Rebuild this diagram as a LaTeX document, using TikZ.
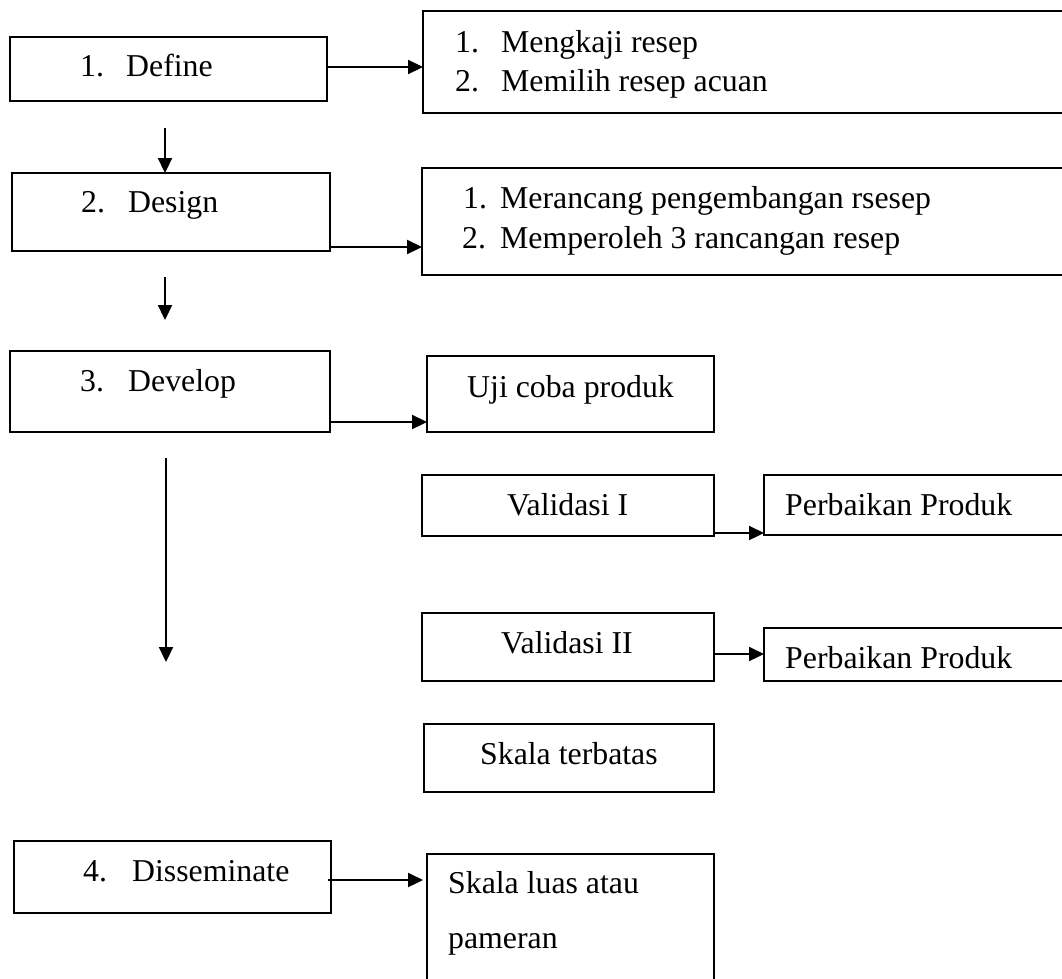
\documentclass[tikz,border=0pt]{standalone}
\usepackage{fontspec}
\setmainfont{Liberation Serif}
\usetikzlibrary{arrows.meta}
\begin{document}
\begin{tikzpicture}[x=1pt,y=-1pt,
  bx/.style={draw, line width=2.6pt, rectangle, inner sep=0pt, outer sep=0pt, anchor=north west},
  tx/.style={anchor=base west, inner sep=0pt, font=\fontsize{31.8}{38}\selectfont},
  arr/.style={line width=2.2pt, -{Triangle[length=15pt,width=14pt]}}]
\useasboundingbox (0,0) rectangle (1062,978);
% boxes
\node[bx, line width=1.8pt, minimum width=317pt, minimum height=64pt] (define) at (10,37) {};
\node[bx, minimum width=660pt, minimum height=102pt] (box1) at (423,11) {};
\node[bx, minimum width=318pt, minimum height=78pt] (design) at (12,173) {};
\node[bx, minimum width=660pt, minimum height=107pt] (box2) at (422,168) {};
\node[bx, minimum width=320pt, minimum height=81pt] (develop) at (10,351) {};
\node[bx, minimum width=287pt, minimum height=76pt] (uji) at (427,356) {};
\node[bx, minimum width=292pt, minimum height=61pt] (val1) at (422,475) {};
\node[bx, minimum width=320pt, minimum height=60pt] (perb1) at (764,475) {};
\node[bx, minimum width=292pt, minimum height=68pt] (val2) at (422,613) {};
\node[bx, minimum width=320pt, minimum height=53pt] (perb2) at (764,628) {};
\node[bx, minimum width=290pt, minimum height=68pt] (skalat) at (424,724) {};
\node[bx, minimum width=317pt, minimum height=72pt] (dissem) at (14,841) {};
\node[bx, minimum width=287pt, minimum height=150pt] (skalal) at (427,854) {};
% texts
\node[tx] (tdefine) at (80,76) {\makebox[46pt][l]{1.}Define};
\node[tx] (tb1a) at (455,52) {\makebox[46pt][l]{1.}Mengkaji resep};
\node[tx] (tb1b) at (455,91) {\makebox[46pt][l]{2.}Memilih resep acuan};
\node[tx] (tdesign) at (81,212) {\makebox[47pt][l]{2.}Design};
\node[tx] (tb2a) at (463,208) {\makebox[37pt][l]{1.}Merancang pengembangan rsesep};
\node[tx] (tb2b) at (462,248) {\makebox[38pt][l]{2.}Memperoleh 3 rancangan resep};
\node[tx] (tdevelop) at (80,391) {\makebox[48pt][l]{3.}Develop};
\node[tx] (tuji) at (467,397) {Uji coba produk};
\node[tx] (tval1) at (507,515) {Validasi I};
\node[tx] (tperb1) at (785,515) {Perbaikan Produk};
\node[tx] (tval2) at (501,653) {Validasi II};
\node[tx] (tperb2) at (785,668) {Perbaikan Produk};
\node[tx] (tskalat) at (480,764) {Skala terbatas};
\node[tx] (tdissem) at (83,881) {\makebox[49pt][l]{4.}Disseminate};
\node[tx] (tskalal1) at (448,893) {Skala luas atau};
\node[tx] (tskalal2) at (448,948) {pameran};
% free arrow ends
\coordinate (d1s) at (165,128);
\coordinate (d2s) at (165,277);
\coordinate (d2e) at (165,320);
\coordinate (d3s) at (166,458);
\coordinate (d3e) at (166,662);
\coordinate (dis) at (328,880);
% connectors
\draw[arr] (define.east |- 0,67) -- (box1.west |- 0,67);
\draw[arr] (d1s) -- (design.north -| d1s);
\draw[arr] (design.east |- 0,247) -- (box2.west |- 0,247);
\draw[arr] (d2s) -- (d2e);
\draw[arr] (develop.east |- 0,422) -- (uji.west |- 0,422);
\draw[arr] (d3s) -- (d3e);
\draw[arr] (val1.east |- 0,533) -- (perb1.west |- 0,533);
\draw[arr] (val2.east |- 0,654) -- (perb2.west |- 0,654);
\draw[arr] (dis) -- ([xshift=-4pt]skalal.west |- dis);
\end{tikzpicture}
\end{document}
